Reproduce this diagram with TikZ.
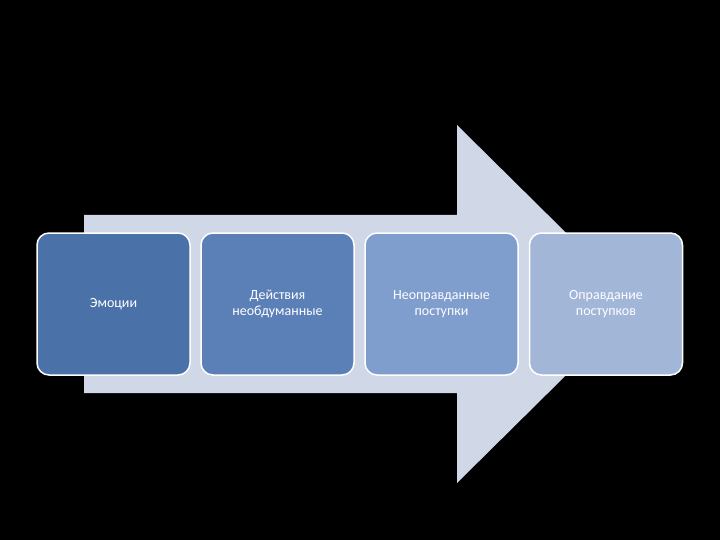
\documentclass[tikz,border=0pt]{standalone}
\usepackage{fontspec}
\setmainfont{Carlito}
\begin{document}
\begin{tikzpicture}[x=1pt,y=-1pt,
  box/.style={draw=white,line width=1.5pt,rounded corners=12pt,minimum width=153pt,minimum height=142pt,text=white,align=center,font=\fontsize{14}{16}\selectfont}]
\fill[black] (0,0) rectangle (720,540);
\useasboundingbox (0,0) rectangle (720,540);
\fill[fill={rgb,255:red,208;green,216;blue,232}] (84,215) -- (457,215) -- (457,125) -- (638,304) -- (457,483) -- (457,393) -- (84,393) -- cycle;
\node[box,fill={rgb,255:red,74;green,114;blue,168}] (a) at (113.5,304) {Эмоции};
\node[box,fill={rgb,255:red,91;green,128;blue,183}] (b) at (277.5,304) {Действия\\необдуманные};
\node[box,fill={rgb,255:red,127;green,157;blue,205}] (c) at (441.5,304) {Неоправданные\\поступки};
\node[box,fill={rgb,255:red,162;green,182;blue,216}] (d) at (606,304) {Оправдание\\поступков};
\end{tikzpicture}
\end{document}
